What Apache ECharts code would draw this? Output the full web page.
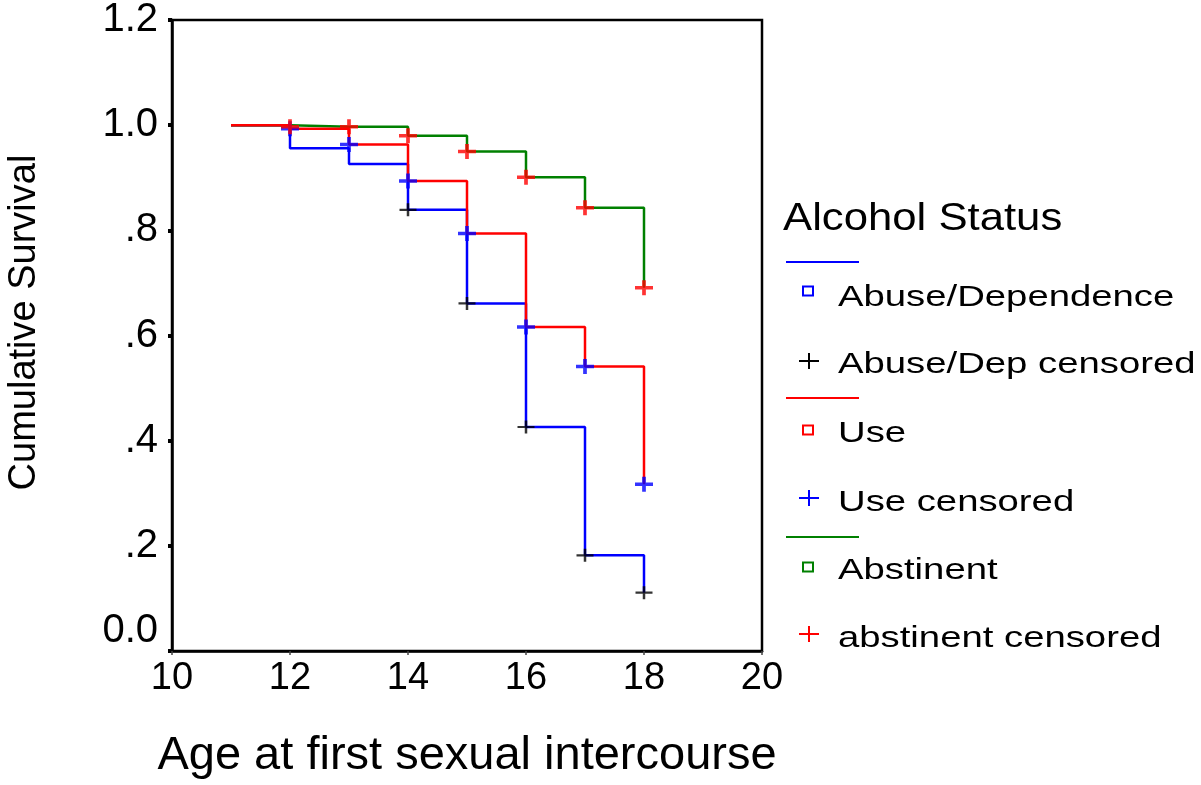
<!DOCTYPE html>
<html>
<head>
<meta charset="utf-8">
<script src="https://cdn.jsdelivr.net/npm/echarts@6/dist/echarts.min.js"></script>
<style>
html,body{margin:0;padding:0;background:#fff;}
#chart{width:1201px;height:785px;}
</style>
</head>
<body>
<div id="chart"></div>
<script>
// ---- data ----
var ages = [11, 12, 13, 14, 15, 16, 17, 18];
var abuseSurv = [1.0, 0.956, 0.926, 0.839, 0.661, 0.426, 0.182, 0.111];
var useSurv = [1.0, 0.993, 0.963, 0.894, 0.794, 0.616, 0.541, 0.317];
var abstSurv = [1.0, 0.997, 0.997, 0.980, 0.950, 0.901, 0.843, 0.691];

var abuseCensAges = [14, 15, 16, 17, 18];
var abuseCensVals = [0.839, 0.661, 0.426, 0.182, 0.111];
var useCensAges = [12, 13, 14, 15, 16, 17, 18];
var useCensVals = [0.993, 0.963, 0.894, 0.794, 0.616, 0.541, 0.317];
var abstCensAges = [12, 13, 14, 15, 16, 17, 18];
var abstCensVals = [0.997, 0.997, 0.980, 0.950, 0.901, 0.843, 0.691];

var yTickLabels = {0: '0.0', 0.2: '.2', 0.4: '.4', 0.6: '.6', 0.8: '.8', 1: '1.0', 1.2: '1.2'};
var legendTitle = 'Alcohol Status';
var legendNames = ['Abuse/Dependence', 'Abuse/Dep censored', 'Use', 'Use censored', 'Abstinent', 'abstinent censored'];

function pairs(xs, ys) { return xs.map(function (x, i) { return [x, ys[i]]; }); }

var FONT = "'Liberation Sans', Arial, sans-serif";
var plusThick = 'path://M6.75,0h3.5v5.75h6.75v3.5h-6.75v5.75h-3.5v-5.75h-6.75v-3.5h6.75z';
var plusThin = 'path://M7.25,0h2.5v6.25h7.25v2.5h-7.25v6.25h-2.5v-6.25h-7.25v-2.5h7.25z';

// ---- legend graphics ----
var g = [];
g.push({type: 'text', x: 783, y: 219, scaleX: 1.12, scaleY: 1,
  style: {text: legendTitle, x: 0, y: 0, fill: '#000', font: '39px ' + FONT, verticalAlign: 'middle', textVerticalAlign: 'middle'}});
var groups = [
  {color: '#0000ff', lineY: 262, sqY: 291, t1Y: 298, plusY: 361, t2Y: 365, plusColor: '#000000'},
  {color: '#ff0000', lineY: 398, sqY: 430, t1Y: 434, plusY: 498, t2Y: 503, plusColor: '#0000ff'},
  {color: '#008000', lineY: 537, sqY: 567, t1Y: 571, plusY: 634, t2Y: 639, plusColor: '#ff0000'}
];
groups.forEach(function (gr, i) {
  g.push({type: 'line', shape: {x1: 786, y1: gr.lineY, x2: 859, y2: gr.lineY}, style: {stroke: gr.color, lineWidth: 2}});
  g.push({type: 'rect', shape: {x: 803, y: gr.sqY - 4.5, width: 10, height: 9}, style: {fill: '#fff', stroke: gr.color, lineWidth: 2}});
  g.push({type: 'line', shape: {x1: 799, y1: gr.plusY, x2: 819, y2: gr.plusY}, style: {stroke: gr.plusColor, lineWidth: 2}});
  g.push({type: 'line', shape: {x1: 809, y1: gr.plusY - 8, x2: 809, y2: gr.plusY + 8}, style: {stroke: gr.plusColor, lineWidth: 2}});
  g.push({type: 'text', x: 838, y: gr.t1Y, scaleX: 1.32,
    style: {text: legendNames[i * 2], x: 0, y: 0, fill: '#000', font: '29px ' + FONT, verticalAlign: 'middle', textVerticalAlign: 'middle'}});
  g.push({type: 'text', x: 838, y: gr.t2Y, scaleX: 1.32,
    style: {text: legendNames[i * 2 + 1], x: 0, y: 0, fill: '#000', font: '29px ' + FONT, verticalAlign: 'middle', textVerticalAlign: 'middle'}});
});

var chart = echarts.init(document.getElementById('chart'), null, {renderer: 'canvas'});
chart.setOption({
  backgroundColor: '#ffffff',
  animation: false,
  grid: {left: 172, top: 17, right: 439, bottom: 129, show: true, borderColor: '#000', borderWidth: 2.5, backgroundColor: 'transparent'},
  xAxis: {
    type: 'value', min: 10, max: 20, interval: 2,
    name: 'Age at first sexual intercourse', nameLocation: 'middle', nameGap: 82,
    nameTextStyle: {fontSize: 47, fontFamily: FONT, color: '#000'},
    axisLine: {show: true, onZero: false, lineStyle: {color: '#000', width: 2.5}},
    axisTick: {show: true, inside: false, length: 4, lineStyle: {color: '#444', width: 1.5}},
    axisLabel: {fontSize: 38, fontFamily: FONT, color: '#000', margin: 9},
    splitLine: {show: false}
  },
  yAxis: {
    type: 'value', min: 0, max: 1.2, interval: 0.2,
    name: 'Cumulative Survival', nameLocation: 'middle', nameGap: 128, nameRotate: 90,
    nameTextStyle: {fontSize: 38, fontFamily: FONT, color: '#000', padding: [0, 0, 0, 26]},
    axisLine: {show: true, lineStyle: {color: '#000', width: 2.5}},
    axisTick: {show: true, inside: false, length: 4, lineStyle: {color: '#000', width: 4}},
    axisLabel: {fontSize: 40, fontFamily: FONT, color: '#000', margin: 14, verticalAlignMinLabel: 'bottom',
      formatter: function (v) { var k = Math.round(v * 10) / 10; return yTickLabels[k] !== undefined ? yTickLabels[k] : ''; }},
    splitLine: {show: false}
  },
  series: [
    {name: legendNames[0], type: 'line', step: 'end', data: pairs(ages, abuseSurv), showSymbol: false, lineStyle: {color: '#0000ff', width: 2.5}, z: 2},
    {name: legendNames[2], type: 'line', step: 'end', data: pairs(ages, useSurv), showSymbol: false, lineStyle: {color: '#ff0000', width: 2.5}, z: 3},
    {name: legendNames[4], type: 'line', step: 'end', data: pairs(ages, abstSurv), showSymbol: false, lineStyle: {color: '#008000', width: 2.5}, z: 2},
    {name: legendNames[1], type: 'scatter', data: pairs(abuseCensAges, abuseCensVals), symbol: plusThin, symbolSize: [17, 13], itemStyle: {color: '#000000'}, z: 4},
    {name: legendNames[3], type: 'scatter', data: pairs(useCensAges, useCensVals), symbol: plusThick, symbolSize: [18, 15], itemStyle: {color: '#0000ff'}, z: 5},
    {name: legendNames[5], type: 'scatter', data: pairs(abstCensAges, abstCensVals), symbol: plusThick, symbolSize: [18, 15], itemStyle: {color: '#ff0000'}, z: 6}
  ],
  graphic: g
});
</script>
</body>
</html>
